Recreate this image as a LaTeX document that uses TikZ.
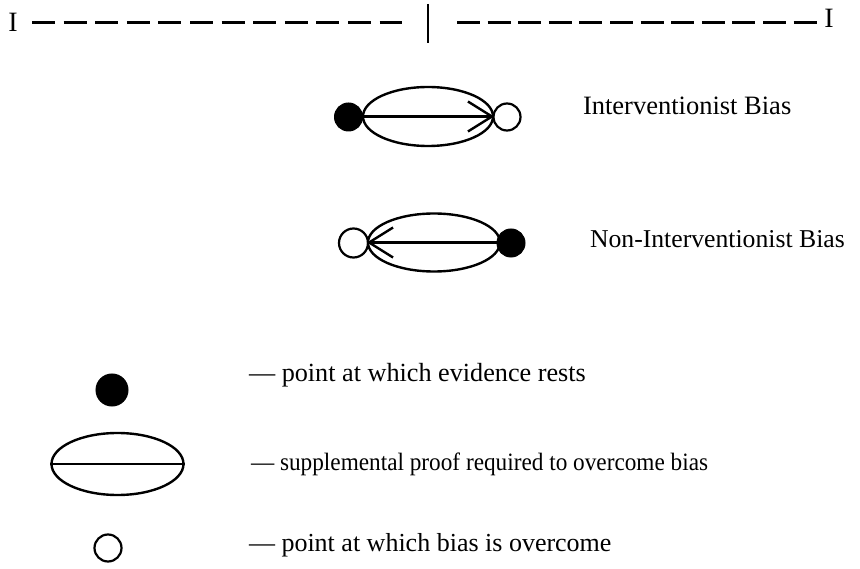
\documentclass[tikz,border=0pt]{standalone}
\usepackage{fontspec}
\usepackage{graphicx}
\setmainfont{Liberation Serif}
\usetikzlibrary{shapes.geometric,arrows.meta}
\tikzset{
  lens/.style={ellipse,draw,line width=2.4pt,inner sep=0pt,minimum width=130pt,minimum height=59pt},
  dotfull/.style={circle,fill=black,draw=black,line width=1pt,inner sep=0pt,minimum size=28pt},
  dotopen/.style={circle,draw=black,line width=2.2pt,inner sep=0pt,minimum size=27pt},
  barbarrow/.style={line width=2.2pt,-{Straight Barb[length=24pt,width=30pt,line width=2.4pt]}},
  midline/.style={line width=2.2pt},
  label/.style={anchor=base west,inner sep=0pt,outer sep=0pt},
  tickI/.style={inner sep=0pt,font=\fontsize{28}{28}\selectfont},
  dashL/.style={line width=3pt,dash pattern=on 23pt off 8.6pt},
  dashR/.style={line width=3pt,dash pattern=on 23pt off 7.6pt}
}
\begin{document}
\begin{tikzpicture}[x=1pt,y=-1pt]
\useasboundingbox (0,0) rectangle (860,569);
% top scale
\node[tickI] (iL) at (13,22.5) {I};
\node[tickI] (iR) at (829,18) {I};
\coordinate (l1) at (32,23);
\coordinate (l2) at (402,23);
\coordinate (r1) at (457,23);
\coordinate (r2) at (818,23);
\coordinate (bt) at (428,4);
\coordinate (bb) at (428,43);
\draw[dashL] (l1) -- (l2);
\draw[dashR] (r1) -- (r2);
\draw[line width=2.6pt] (bt) -- (bb);
% interventionist bias
\node[lens] (e1) at (428,116.5) {};
\node[dotfull] (f1) at (348.5,117) {};
\node[dotopen] (o1) at (507,117) {};
\draw[barbarrow] (e1.west) -- (e1.east);
\node[label,font=\fontsize{26.5}{30}\selectfont] (t1) at (583,115) {Interventionist Bias};
% non-interventionist bias
\node[lens,minimum width=132pt,minimum height=58pt] (e2) at (434,242.5) {};
\node[dotopen,minimum size=29pt] (o2) at (353.5,243) {};
\node[dotfull] (f2) at (511,243) {};
\draw[barbarrow] (e2.east) -- (e2.west);
\node[label,font=\fontsize{25.7}{30}\selectfont] (t2) at (590,248) {Non-Interventionist Bias};
% legend
\node[dotfull,minimum size=32pt] (lf) at (112,390) {};
\node[lens,minimum width=132pt,minimum height=62pt] (le) at (117.5,464) {};
\draw[midline] (le.west) -- (le.east);
\node[dotopen,minimum size=27pt] (lo) at (108,548) {};
\node[label,font=\fontsize{26.2}{30}\selectfont] (k1) at (249,382) {— point at which evidence rests};
\node[label,font=\fontsize{25}{30}\selectfont] (k2) at (251,470) {\scalebox{0.93}[1]{— supplemental proof required to overcome bias}};
\node[label,font=\fontsize{26}{30}\selectfont] (k3) at (249,551) {— point at which bias is overcome};
\end{tikzpicture}
\end{document}
